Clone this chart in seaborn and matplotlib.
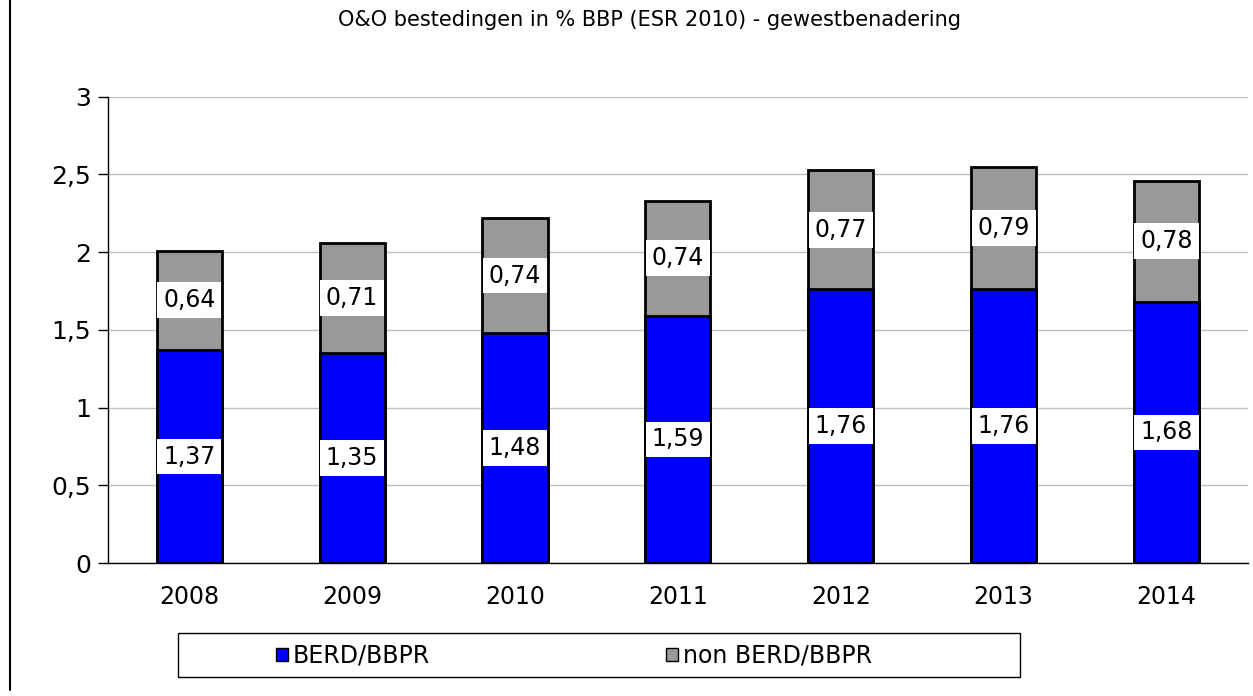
import numpy as np
import pandas as pd
import seaborn as sns
import matplotlib
matplotlib.use('Agg')
from matplotlib import pyplot as plt
from matplotlib.patches import Patch, Rectangle
from matplotlib.lines import Line2D

years = ['2008', '2009', '2010', '2011', '2012', '2013', '2014']
berd = [1.37, 1.35, 1.48, 1.59, 1.76, 1.76, 1.68]
non_berd = [0.64, 0.71, 0.74, 0.74, 0.77, 0.79, 0.78]
yticks = [0, 0.5, 1, 1.5, 2, 2.5, 3]

df = pd.DataFrame({'Jaar': years, 'BERD': berd, 'NonBERD': non_berd})
df['Totaal'] = df['BERD'] + df['NonBERD']

def comma(v):
    return f"{v:g}".replace('.', ',')

sns.set_theme(style='white')
plt.rcParams['font.family'] = ['DejaVu Sans']
plt.rcParams['text.color'] = 'black'
plt.rcParams['xtick.color'] = 'black'
plt.rcParams['ytick.color'] = 'black'

fig = plt.figure(figsize=(12.53, 6.96), dpi=100)
ax = fig.add_axes([0.086, 0.191, 0.91, 0.67])

blue = '#0000ff'
grey = '#999999'

# total bar in grey, BERD part drawn over it in blue
sns.barplot(data=df, x='Jaar', y='Totaal', color=grey, saturation=1, width=0.4,
            edgecolor='black', linewidth=2, ax=ax)
sns.barplot(data=df, x='Jaar', y='BERD', color=blue, saturation=1, width=0.4,
            edgecolor='black', linewidth=2, ax=ax)

# white value labels, kept inside the bar outline
box = dict(boxstyle='square,pad=0.25', facecolor='white', edgecolor='none')
for i, row in df.iterrows():
    ax.text(i, row['BERD'] / 2, f"{row['BERD']:.2f}".replace('.', ','),
            ha='center', va='center', fontsize=17, bbox=box, zorder=5)
    ax.text(i, row['BERD'] + row['NonBERD'] / 2, f"{row['NonBERD']:.2f}".replace('.', ','),
            ha='center', va='center', fontsize=17, bbox=box, zorder=5)

ax.set_ylim(0, 3)
ax.set_xlim(-0.5, len(years) - 0.5)
ax.set_yticks(yticks)
ax.set_yticklabels([comma(v) for v in yticks], fontsize=18)
ax.tick_params(axis='x', labelsize=17, length=0, pad=16)
ax.set_xticks(np.arange(-0.5, len(years)), minor=True)
ax.tick_params(axis='x', which='minor', length=7, width=1, color='black', direction='out')
ax.tick_params(axis='y', length=7, width=1, color='black', direction='out', left=True, pad=5)
ax.yaxis.grid(True, color='#c0c0c0', linewidth=1)
ax.set_axisbelow(True)
ax.set_xlabel('')
ax.set_ylabel('')
for s in ['top', 'right']:
    ax.spines[s].set_visible(False)
for s in ['left', 'bottom']:
    ax.spines[s].set_color('black')
    ax.spines[s].set_linewidth(1)

fig.text(0.518, 0.971, 'O&O bestedingen in % BBP (ESR 2010) - gewestbenadering',
         ha='center', va='center', fontsize=15)

# legend box
fig.patches.append(Rectangle((0.142, 0.027), 0.672, 0.063, transform=fig.transFigure,
                             facecolor='white', edgecolor='black', linewidth=1))
handles = [Patch(facecolor=blue, edgecolor='black', label='BERD/BBPR'),
           Patch(facecolor=grey, edgecolor='black', label='non BERD/BBPR')]
fig.legend(handles=handles, loc='center', bbox_to_anchor=(0.458, 0.058), ncol=2,
           frameon=False, fontsize=17, handlelength=0.5, handleheight=0.5,
           handletextpad=0.2, columnspacing=10)

fig.add_artist(Line2D([0.008, 0.008], [0.008, 1.0], transform=fig.transFigure,
                      color='black', linewidth=1.5))

plt.savefig('out.png', dpi=100)
